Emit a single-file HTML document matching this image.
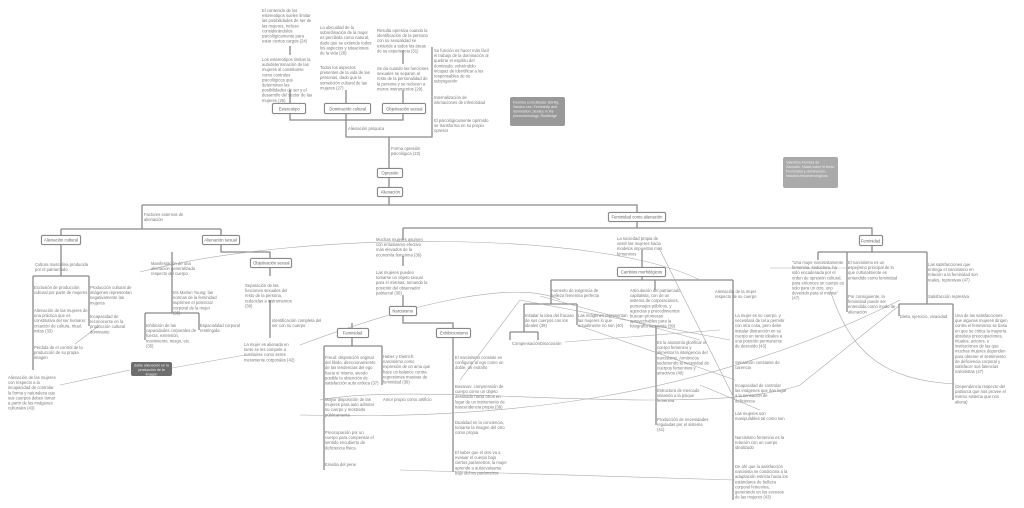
<!DOCTYPE html>
<html><head><meta charset="utf-8"><style>
html,body{margin:0;padding:0;background:#fff;}
#c{position:relative;width:1024px;height:508px;overflow:hidden;font-family:"Liberation Sans",sans-serif;}
.t{position:absolute;font-size:8.4px;line-height:10.2px;color:#7a7a7a;transform:scale(.5);transform-origin:0 0;}
.b{position:absolute;border:1px solid #888;border-radius:2px;background:#fff;color:#666;box-sizing:border-box;display:flex;align-items:center;justify-content:center;box-shadow:0 0 1px #aaa;overflow:visible;}
.b span{font-size:8.4px;white-space:nowrap;transform:scale(.5);transform-origin:center;}
.g{position:absolute;border-radius:2px;overflow:hidden;}
.g div{font-size:7.2px;line-height:9px;color:#eee;transform:scale(.5);transform-origin:0 0;padding:6px;}
svg{position:absolute;left:0;top:0;}
</style></head><body><div id="c">
<svg width="1024" height="508" fill="none" stroke="#8a8a8a" stroke-width="1.3">
<path d="M290 46V55M290 90V104M346 90V104M403 50V64M403 90V104"/>
<path d="M290 114V120H403V114M346 114V137H432V47M389 137V169M389 178V188M389 197V205"/>
<path d="M142 205H637V213M637 222V228M403 228H872V236"/>
<path d="M142 205V229M61 229H221M61 236V229M221 236V229"/>
<path d="M61 245V276M33 276H89M33 276V370M89 276V326"/>
<path d="M221 245V252H270V259M172 252V313M145 313H199M145 313V340M199 313V330M270 268V276M270 300V338"/>
<path d="M403 228V240M403 256V266M403 295V307M403 316V323H453V329M352 323V329M352 338V346M324 346H382M324 346V470M382 346V385M453 338V472"/>
<path d="M642 250V268M642 277V280M551 280H733M551 280V304M655 280V290M733 280V500M656 326V425M524 304H577M524 304V332M577 304V325M510 332H538M510 332V340M538 332V340"/>
<path d="M872 246V252M818 252H927M818 252V260M847 252V312M927 252V304M899 304H953M899 304V316M953 304V400"/>
<g stroke="#aaa" stroke-width="0.6">
<path d="M140 272C300 230 600 230 700 280"/>
<path d="M300 345C420 300 520 280 560 300"/>
<path d="M60 385L130 370M172 368L245 355"/>
<path d="M75 344L100 325"/>
<path d="M520 300L730 340"/>
<path d="M540 296L700 340"/>
<path d="M565 342L720 330"/>
<path d="M577 325L735 380"/>
<path d="M660 250L735 400"/>
<path d="M300 415C500 420 700 400 900 300"/>
<path d="M400 470L735 480"/>
<path d="M320 400C420 380 700 420 800 385L900 305"/>
<path d="M830 290C850 350 880 380 955 384"/>
<path d="M700 385L760 410"/>
<path d="M460 380L520 300"/>
<path d="M770 268L850 268"/>
</g>
</svg>
<div class="t" style="left:262px;top:8px;width:100px">El contenido de los estereotipos suelen limitar las posibilidades de ser de las mujeres, incluso considerándolos psicológicamente para estar ciertos cargos (24)</div>
<div class="t" style="left:262px;top:57px;width:104px">Los estereotipos limitan la autodeterminación de las mujeres al constituirse como controles psicológicos que determinan las posibilidades de ser y el desarrollo del sector de las mujeres (26)</div>
<div class="t" style="left:320px;top:25px;width:104px">La ubicuidad de la subordinación de la mujer es percibida como natural, dado que se extiende todos los aspectos y situaciones de la vida (28)</div>
<div class="t" style="left:320px;top:65px;width:104px">Todos los aspectos presentes de la vida de las personas, dado que la sometición cultural de las mujeres (27)</div>
<div class="t" style="left:377px;top:28px;width:104px">Resulta opresiva cuando la identificación de la persona con su sexualidad se extiende a todos los áreas de su experiencia (31)</div>
<div class="t" style="left:377px;top:66px;width:104px">Se da cuando las funciones sexuales se separan al resto de la personalidad de la persona y se reducen a meros instrumentos (29)</div>
<div class="b" style="left:272px;top:103px;width:34px;height:11px"><span>Estereotipo</span></div>
<div class="b" style="left:324px;top:103px;width:47px;height:11px"><span>Dominación cultural</span></div>
<div class="b" style="left:382px;top:103px;width:44px;height:11px"><span>Objetivación sexual</span></div>
<div class="t" style="left:348px;top:126px;width:100px">Alienación psíquica</div>
<div class="t" style="left:434px;top:48px;width:112px">Su función es hacer más fácil el trabajo de la dominación al quebrar el espíritu del dominado, volviéndolo incapaz de identificar a los responsables de su subyugación</div>
<div class="t" style="left:434px;top:95px;width:104px">Internalización de intimaciones de inferioridad</div>
<div class="t" style="left:434px;top:118px;width:112px">El psicológicamente oprimido se transforma en su propio opresor</div>
<div class="g" style="left:510px;top:97px;width:55px;height:29px;background:#999"><div style="width:98px">Fuentes consultadas: Bartky, Sandra Lee; Femininity and domination; studies in the phenomenology; Routledge</div></div>
<div class="g" style="left:783px;top:157px;width:55px;height:31px;background:#aaa"><div style="width:98px">Valentina Ferrada de Zamudio. Notas sobre el texto. Feminidad y dominación; estudios fenomenológicos</div></div>
<div class="t" style="left:391px;top:146px;width:100px">Forma opresión psicológica (22)</div>
<div class="b" style="left:377px;top:168px;width:26px;height:10px"><span>Opresión</span></div>
<div class="b" style="left:377px;top:187px;width:26px;height:10px"><span>Alienación</span></div>
<div class="t" style="left:144px;top:212px;width:84px">Factores externos de alienación</div>
<div class="b" style="left:41px;top:235px;width:40px;height:10px"><span>Alienación cultural</span></div>
<div class="b" style="left:202px;top:235px;width:38px;height:10px"><span>Alienación sexual</span></div>
<div class="t" style="left:35px;top:262px;width:110px">Cultura masculina producida por el patriarcado</div>
<div class="t" style="left:34px;top:285px;width:108px">Exclusión de producción cultural por parte de mujeres</div>
<div class="t" style="left:90px;top:285px;width:100px">Producción cultural de imágenes representan negativamente las mujeres</div>
<div class="t" style="left:34px;top:308px;width:108px">Alienación de las mujeres de una práctica que es constitutiva del ser humano: creación de cultura, ritual, mitos (33)</div>
<div class="t" style="left:90px;top:314px;width:104px">Incapacidad de reconocerse en la producción cultural dominante</div>
<div class="t" style="left:34px;top:345px;width:100px">Pérdida de el control de la producción de su propia imagen</div>
<div class="t" style="left:8px;top:375px;width:100px">Alienación de las mujeres con respecto a la incapacidad de controlar la forma y naturaleza que sus cuerpos deben tomar a partir de las imágenes culturales (43)</div>
<div class="g" style="left:131px;top:362px;width:41px;height:14px;background:#6e6e6e"><div style="width:70px;text-align:center;padding:2px 6px">doble alienación en la producción de la imagen</div></div>
<div class="t" style="left:151px;top:261px;width:92px">Manifestación de una alienación generalizada respecto del cuerpo</div>
<div class="b" style="left:250px;top:258px;width:42px;height:10px"><span>Objetivación sexual</span></div>
<div class="t" style="left:245px;top:283px;width:104px">Separación de las funciones sexuales del resto de la persona, reducidas a instrumentos (30)</div>
<div class="t" style="left:173px;top:290px;width:90px">Iris Marion Young: las normas de la feminidad suprimen el potencial corporal de la mujer (35)</div>
<div class="t" style="left:146px;top:323px;width:104px">Inhibición de las capacidades corporales de fuerza, extensión, movimiento, riesgo, etc. (35)</div>
<div class="t" style="left:200px;top:323px;width:84px">Espacialidad corporal restringida</div>
<div class="t" style="left:272px;top:318px;width:100px">Identificación completa del ser con su cuerpo</div>
<div class="t" style="left:244px;top:342px;width:110px">La mujer es alienada en tanto se les compele a sustituirse como seres meramente corporales (42)</div>
<div class="t" style="left:376px;top:237px;width:104px">Muchas mujeres asumen con entusiasmo efectivo más elevados de la economía femenina (36)</div>
<div class="t" style="left:376px;top:270px;width:104px">Las mujeres pueden tomarse un objeto sexual para sí mismas, tomando la posición del observador patriarcal (38)</div>
<div class="b" style="left:389px;top:306px;width:28px;height:10px"><span>Narcisismo</span></div>
<div class="b" style="left:337px;top:328px;width:32px;height:10px"><span>Feminidad</span></div>
<div class="b" style="left:436px;top:328px;width:35px;height:10px"><span>Exhibicionismo</span></div>
<div class="t" style="left:325px;top:355px;width:108px">Freud: disposición original del libido, direccionamiento de las tendencias del ego hacia sí mismo, siendo posible la obtención de satisfacción auto erótica (37)</div>
<div class="t" style="left:383px;top:354px;width:100px">Haber y Dietrich: narcisismo como expresión de un ama que hace un balance contra regresiones masivas de feminidad (39)</div>
<div class="t" style="left:325px;top:397px;width:108px">Mayor disposición de las mujeres para auto admirar su cuerpo y mostrarlo públicamente</div>
<div class="t" style="left:383px;top:397px;width:100px">Amor propio como artificio</div>
<div class="t" style="left:325px;top:430px;width:104px">Preocupación por un cuerpo para compensar el sentido encubierto de deficiencia física</div>
<div class="t" style="left:325px;top:462px;width:100px">Envidia del pene</div>
<div class="t" style="left:455px;top:355px;width:104px">El narcisismo consiste en configurar al ego como un doble, un extraño</div>
<div class="t" style="left:455px;top:384px;width:104px">Bosanov: comprensión de cuerpo como un objeto destinado hacia otros en lugar de un instrumento de trascendencia propia (38)</div>
<div class="t" style="left:455px;top:420px;width:104px">Dualidad en la conciencia, tomarse la imagen del otro como propia</div>
<div class="t" style="left:455px;top:450px;width:108px">El saber que el otro va a evaluar el cuerpo bajo ciertos parámetros, la mujer aprende a autoevaluarse bajo dichos parámetros</div>
<div class="b" style="left:608px;top:212px;width:58px;height:10px"><span>Feminidad como alienación</span></div>
<div class="t" style="left:617px;top:236px;width:100px">La sociedad propia de vestir las mujeres hacia modelos impuestos más femeninos</div>
<div class="b" style="left:617px;top:267px;width:49px;height:10px"><span>Cambios morfológicos</span></div>
<div class="t" style="left:551px;top:288px;width:104px">Aumento de exigencia de belleza femenina perfecta</div>
<div class="t" style="left:630px;top:288px;width:104px">Articulación del patriarcado capitalista, con de un sistema de corporaciones, personajes públicos, y agencias y procedimientos buscan promesas aprovechables para la fotografía narcisista (39)</div>
<div class="t" style="left:715px;top:289px;width:96px">Alienación de la mujer respecto de su cuerpo</div>
<div class="t" style="left:525px;top:313px;width:100px">Instalar la idea del fracaso de sus cuerpos con los ideales (39)</div>
<div class="t" style="left:578px;top:313px;width:100px">Las imágenes representan las mujeres lo que actualmente no son (40)</div>
<div class="t" style="left:512px;top:341px;width:60px">Compensación</div>
<div class="t" style="left:540px;top:341px;width:60px">Disociación</div>
<div class="t" style="left:735px;top:313px;width:104px">La mujer es su cuerpo, y necesitará de tal a permitir con otra cosa, pero debe instalar distracción en su cuerpo en tanto ideales a una posición permanente de descuido (43)</div>
<div class="t" style="left:657px;top:340px;width:104px">Es la anatomía glorificar el cuerpo femenino y alimentar la inteligencia del narcisismo. Armónicos seduciendo la necesidad de cuerpos femeninos y atractivos (40)</div>
<div class="t" style="left:735px;top:360px;width:104px">Sensación constante de carencia</div>
<div class="t" style="left:657px;top:388px;width:100px">Estructura de mercado imitando a la psique femenina</div>
<div class="t" style="left:735px;top:383px;width:104px">Incapacidad de controlar las imágenes que dan lugar a la sensación de deficiencia</div>
<div class="t" style="left:657px;top:417px;width:104px">Producción de necesidades reguladas por el sistema (41)</div>
<div class="t" style="left:735px;top:411px;width:100px">Las mujeres son manipulables tal como son</div>
<div class="t" style="left:735px;top:435px;width:104px">Narcisismo femenino es la relación con un cuerpo idealizado</div>
<div class="t" style="left:735px;top:464px;width:108px">De ahí que la satisfacción narcisista se condiciona a la adaptación estricta hacia los estándares de belleza corporal femenina, generando en los excesos de las mujeres (43)</div>
<div class="b" style="left:859px;top:235px;width:24px;height:11px"><span>Feminidad</span></div>
<div class="t" style="left:792px;top:260px;width:104px">"Una mujer narcisistamente femenina, seductora, ha sido encadenada por el orden de opresión cultural, para entonces un cuerpo es solo para un otro, uno devenido para sí misma" (47)</div>
<div class="t" style="left:848px;top:260px;width:104px">El narcisismo es un espejismo principal de lo que culturalmente es entendido como feminidad</div>
<div class="t" style="left:848px;top:294px;width:100px">Por consiguiente, la feminidad puede ser entendida como modo de alienación</div>
<div class="t" style="left:928px;top:262px;width:104px">Las satisfacciones que entrega el narcisismo en relación a la feminidad son reales, represivas (47)</div>
<div class="t" style="left:928px;top:294px;width:100px">Satisfacción represiva</div>
<div class="t" style="left:900px;top:314px;width:100px">Dieta, ejercicio, vivacidad</div>
<div class="t" style="left:955px;top:313px;width:110px">Una de las satisfacciones que algunas mujeres dirigen contra el feminismo se basa en que se critica la mayoría absoluta preocupaciones, rituales, actores, e instituciones de las que muchas mujeres dependen para obtener el sentimiento de deficiencia corporal y satisfacer sus falencias narcisistas (47)</div>
<div class="t" style="left:955px;top:384px;width:104px">(Dependencia respecto del patriarca que nos provee el mismo sistema que nos aliena)</div>
</div></body></html>
